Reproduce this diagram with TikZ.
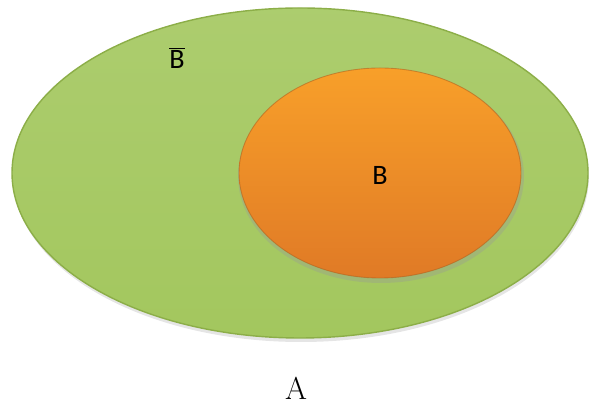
\documentclass[tikz,border=0pt]{standalone}
\usepackage{fontspec}
\newfontfamily\labelfont{Carlito}
\usepackage{tikz}

\definecolor{setgreen}{HTML}{A3C75E}
\definecolor{setgreendark}{HTML}{8CAE48}
\definecolor{setorange}{HTML}{F7952E}
\definecolor{setorangedark}{HTML}{E07A26}

\begin{document}
\begin{tikzpicture}
   \useasboundingbox (0,0) rectangle (11.8,8.32);
   \begin{scope}
    % outer set A
    \fill[gray!40,opacity=0.5] (6.02,4.80) ellipse (5.76 and 3.32);
    \shade[top color=setgreen!90!white,bottom color=setgreen] (6.0,4.86) ellipse (5.76 and 3.3);
    \draw[setgreendark,line width=0.8pt] (6.0,4.86) ellipse (5.76 and 3.3);
    \node (Bbar) at (3.54,7.16) {\labelfont\fontsize{16}{18}\selectfont $\overline{\mbox{B}}$};
   \end{scope}
   \begin{scope}
    % inner set B
    \fill[black!40,opacity=0.35] (7.62,4.80) ellipse (2.86 and 2.14);
    \shade[top color=setorange!90!yellow,bottom color=setorangedark] (7.6,4.86) ellipse (2.82 and 2.1);
    \draw[setorangedark!80!black,line width=0.5pt,opacity=0.6] (7.6,4.86) ellipse (2.82 and 2.1);
    \node (B) at (7.6,4.82) {\labelfont\fontsize{16}{18}\selectfont B};
   \end{scope}
   \node (A) at (5.92,0.56) {\fontsize{18}{20}\selectfont A};
  \end{tikzpicture}
\end{document}
